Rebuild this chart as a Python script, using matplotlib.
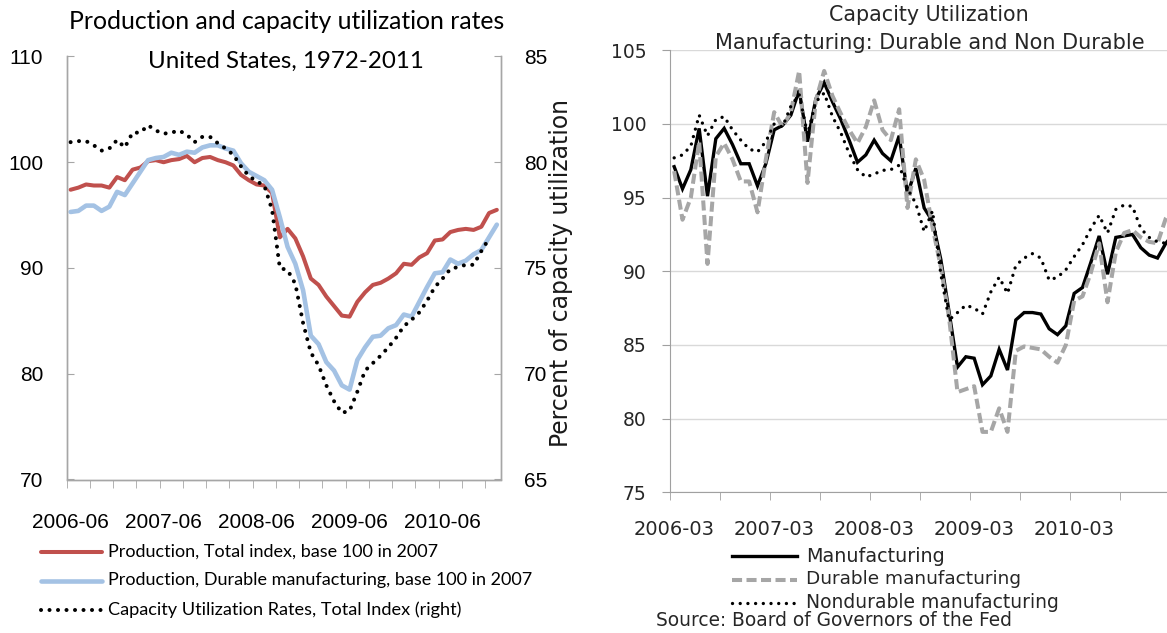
import numpy as np
import matplotlib
matplotlib.use('Agg')
import matplotlib.pyplot as plt
from matplotlib.lines import Line2D
from matplotlib import font_manager

# ---- data: left chart (monthly, 2006-06 .. 2011-01) ----
prod_total = [97.4, 97.6, 97.9, 97.8, 97.8, 97.6, 98.6, 98.3, 99.3, 99.5,
              100.1, 100.2, 100.0, 100.2, 100.3, 100.6, 100.0, 100.4, 100.5, 100.2,
              100.0, 99.7, 98.8, 98.3, 97.9, 97.8, 97.1, 92.9, 93.7, 92.8,
              91.1, 89.0, 88.4, 87.3, 86.4, 85.5, 85.4, 86.8, 87.7, 88.4,
              88.6, 89.0, 89.5, 90.4, 90.3, 91.0, 91.4, 92.6, 92.7, 93.4,
              93.6, 93.7, 93.6, 93.9, 95.2, 95.5]
prod_durable = [95.3, 95.4, 95.9, 95.9, 95.4, 95.8, 97.2, 96.9, 98.0, 99.1,
                100.2, 100.4, 100.5, 100.9, 100.7, 101.0, 100.9, 101.4, 101.6, 101.6,
                101.3, 101.1, 99.9, 99.1, 98.7, 98.3, 97.4, 94.8, 92.0, 90.4,
                87.9, 83.6, 82.8, 81.1, 80.3, 78.9, 78.5, 81.3, 82.5, 83.5,
                83.6, 84.3, 84.6, 85.6, 85.4, 86.8, 88.2, 89.5, 89.6, 90.8,
                90.4, 90.7, 91.3, 91.7, 92.9, 94.1]
cap_total = [80.95, 81.0, 81.0, 80.8, 80.55, 80.65, 81.05, 80.7, 81.4, 81.4,
             81.75, 81.5, 81.35, 81.4, 81.5, 81.3, 80.95, 81.2, 81.2, 80.9,
             80.65, 80.35, 79.8, 79.35, 79.1, 78.9, 77.75, 75.0, 74.9, 74.25,
             72.4, 71.0, 70.4, 69.45, 68.7, 68.15, 68.25, 69.15, 70.15, 70.5,
             70.85, 71.25, 71.7, 72.25, 72.55, 72.9, 73.45, 74.1, 74.5, 74.95,
             75.05, 75.15, 75.15, 75.8, 76.4]
left_ticklabels = ['2006-06', '2007-06', '2008-06', '2009-06', '2010-06']

# ---- data: right chart (monthly, 2006-03 ..) ----
cu_manuf = [97.1, 95.6, 96.9, 99.7, 95.1, 99.0, 99.7, 98.6, 97.3, 97.3,
            95.8, 97.3, 99.6, 99.9, 100.6, 102.3, 98.8, 101.7, 102.8, 101.5,
            100.3, 98.9, 97.4, 97.9, 98.9, 98.0, 97.5, 99.2, 95.2,
            97.0, 94.3, 93.4, 90.8, 87.2, 83.5, 84.2, 84.1, 82.3, 82.9,
            84.7, 83.3, 86.7, 87.2, 87.2, 87.1, 86.1, 85.7, 86.3, 88.5,
            88.9, 90.6, 92.4, 89.8, 92.3, 92.4, 92.5, 91.6, 91.1, 90.9,
            91.9, 92.6]
cu_durable = [96.8, 93.5, 95.0, 98.8, 90.5, 97.8, 98.7, 97.6, 96.1, 96.1,
              94.0, 97.6, 100.8, 99.8, 100.8, 103.6, 96.0, 101.6, 103.6, 101.9,
              100.7, 99.6, 98.7, 99.8, 101.6, 99.6, 98.9, 101.0, 94.3,
              97.6, 96.2, 93.0, 90.3, 86.8, 81.8, 82.0, 82.2, 79.1, 79.1,
              80.7, 79.1, 84.6, 84.9, 84.8, 84.7, 84.2, 83.8, 85.0, 88.0,
              88.3, 89.9, 91.9, 87.9, 91.3, 92.6, 92.8, 92.3, 92.0, 91.9,
              93.6, 94.5]
cu_nondurable = [97.7, 97.9, 98.5, 100.6, 99.2, 100.3, 100.5, 99.6, 98.9, 98.3,
                 98.1, 98.8, 100.0, 99.8, 101.2, 102.0, 99.3, 101.5, 102.1, 100.5,
                 99.4, 98.0, 96.9, 96.4, 96.6, 96.85, 96.9, 97.2, 95.6,
                 94.6, 92.7, 94.1, 89.8, 86.7, 87.2, 87.7, 87.5, 87.1, 88.6,
                 89.6, 88.5, 90.4, 90.9, 91.2, 90.9, 89.4, 89.6, 90.1, 91.0,
                 91.8, 92.9, 93.8, 92.6, 94.2, 94.5, 94.4, 92.9, 92.3, 92.0,
                 91.9, 92.4]
right_ticklabels = ['2006-03', '2007-03', '2008-03', '2009-03', '2010-03']

W, H = 1167, 633
have = {f.name for f in font_manager.fontManager.ttflist}


def pick(*names):
    for n in names:
        if n in have:
            return n
    return 'DejaVu Sans'


narrow = pick('Liberation Sans Narrow', 'Lato', 'Roboto')
arial = pick('Liberation Sans', 'Roboto')

fig = plt.figure(figsize=(W / 100, H / 100), dpi=100)
renderer = fig.canvas.get_renderer()
grey = '#a6a6a6'


def fit(t, target, vertical=False):
    # scale font size so the text spans about `target` pixels
    bb = t.get_window_extent(renderer)
    cur = bb.height if vertical else bb.width
    t.set_fontsize(t.get_fontsize() * target / cur)
    return t


# ================= left chart =================
ax1 = fig.add_axes([66.7 / W, 1 - 479.5 / H, 434 / W, 423 / H])
x1 = np.arange(len(prod_total))
red_style = dict(color='#c0504d', lw=2.9, solid_capstyle='round')
blue_style = dict(color='#a4c2e4', lw=3.3, solid_capstyle='round')
dot_style = dict(color='black', lw=2.9, linestyle=(0, (0.01, 2.1)), dash_capstyle='round')
ax1.plot(x1, prod_total, **red_style, zorder=2)
ax1.plot(x1, prod_durable, **blue_style, zorder=3)
ax1.set_xlim(-0.5, 55.5)
ax1.set_ylim(70, 110)

ax1b = ax1.twinx()
ax1b.plot(np.arange(len(cap_total)), cap_total, **dot_style)
ax1b.set_ylim(65, 85)

for a in (ax1, ax1b):
    a.spines['top'].set_visible(False)
    for s in ('left', 'right', 'bottom'):
        a.spines[s].set_color(grey)
        a.spines[s].set_linewidth(1.0)
ax1.set_yticks([70, 80, 90, 100, 110])
ax1b.set_yticks([65, 70, 75, 80, 85])
ax1.tick_params(axis='y', direction='in', length=5, color=grey, pad=17, labelsize=15)
ax1b.tick_params(axis='y', direction='in', length=5, color=grey, pad=17, labelsize=15)
for lab in ax1.get_yticklabels() + ax1b.get_yticklabels():
    lab.set_family(arial)

ax1.set_xticks([0, 12, 24, 36, 48])
ax1.set_xticklabels(left_ticklabels, family=arial, fontsize=15)
ax1.set_xticks(np.arange(-0.5, 55, 3), minor=True)
ax1.tick_params(axis='x', which='major', length=0, pad=24)
ax1.tick_params(axis='x', which='minor', direction='out', length=5.8, color=grey)

fit(fig.text(286.5 / W, 1 - 21.7 / H, 'Production and capacity utilization rates',
             ha='center', va='center', fontsize=18, family=narrow), 434)
fit(fig.text(286 / W, 1 - 61.7 / H, 'United States, 1972-2011',
             ha='center', va='center', fontsize=18, family=narrow), 276)
fit(fig.text(561 / W, 1 - 273 / H, 'Percent of capacity utilization', rotation=90,
             ha='center', va='center', fontsize=16, family='DejaVu Sans', color='#1a1a1a'),
    350, vertical=True)

left_legend = [('Production, Total index, base 100 in 2007', red_style, 551.7, 329),
               ('Production, Durable manufacturing, base 100 in 2007', blue_style, 580.5, 425),
               ('Capacity Utilization Rates, Total Index (right)', dot_style, 609.5, 353)]
for label, st, yy, wpx in left_legend:
    fig.add_artist(Line2D([41 / W, 102 / W], [1 - yy / H, 1 - yy / H],
                          transform=fig.transFigure, **st))
    fit(fig.text(108 / W, 1 - yy / H, label, ha='left', va='center', fontsize=14.5,
                 family=narrow), wpx)

# ================= right chart =================
dark = '#262626'
ax2 = fig.add_axes([670 / W, 1 - 492.3 / H, 497 / W, 442 / H])
x2 = np.arange(len(cu_manuf))
solid_style = dict(color='black', lw=2.4, solid_joinstyle='miter')
dash_style = dict(color='#a6a6a6', lw=2.9, linestyle=(0, (2.5, 1.1)))
dots_style = dict(color='black', lw=2.4, linestyle=(0, (0.01, 2.3)), dash_capstyle='round')
ax2.plot(x2, cu_manuf, **solid_style, zorder=3)
ax2.plot(x2, cu_durable, **dash_style, zorder=4)
ax2.plot(x2, cu_nondurable, **dots_style, zorder=5)
ax2.set_xlim(-0.5, 59.14)
ax2.set_ylim(75, 105)
ax2.set_yticks(np.arange(75, 106, 5))
ax2.yaxis.grid(True, color='#d9d9d9', lw=1.0)
ax2.set_axisbelow(True)
for s in ('top', 'right'):
    ax2.spines[s].set_visible(False)
for s in ('left', 'bottom'):
    ax2.spines[s].set_color('#a0a0a0')
ax2.tick_params(axis='y', direction='out', length=6, color='#a0a0a0', pad=11,
                labelsize=13.5, labelcolor=dark)
ax2.set_xticks([0, 12, 24, 36, 48])
ax2.set_xticklabels(right_ticklabels, fontsize=14, color=dark)
ax2.set_xticks(np.arange(-0.5, 59, 6), minor=True)
ax2.tick_params(axis='x', which='major', length=0, pad=20)
ax2.tick_params(axis='x', which='minor', direction='out', length=6, color='#a0a0a0')

fit(fig.text(929 / W, 1 - 15 / H, 'Capacity Utilization', ha='center', va='center',
             fontsize=13.5, color=dark), 200)
fit(fig.text(930 / W, 1 - 42.7 / H, 'Manufacturing: Durable and Non Durable',
             ha='center', va='center', fontsize=13.5, color=dark), 430)

right_legend = [('Manufacturing', solid_style, 556, 138),
                ('Durable manufacturing', dash_style, 579.5, 215),
                ('Nondurable manufacturing', dots_style, 603, 253)]
for label, st, yy, wpx in right_legend:
    fig.add_artist(Line2D([732 / W, 797 / W], [1 - yy / H, 1 - yy / H],
                          transform=fig.transFigure, **st))
    fit(fig.text(806 / W, 1 - yy / H, label, ha='left', va='center', fontsize=13,
                 color=dark), wpx)
fit(fig.text(656 / W, 1 - 620 / H, 'Source: Board of Governors of the Fed', ha='left',
             va='center', fontsize=12.5, color=dark), 360)

fig.savefig('out.png', dpi=100)
